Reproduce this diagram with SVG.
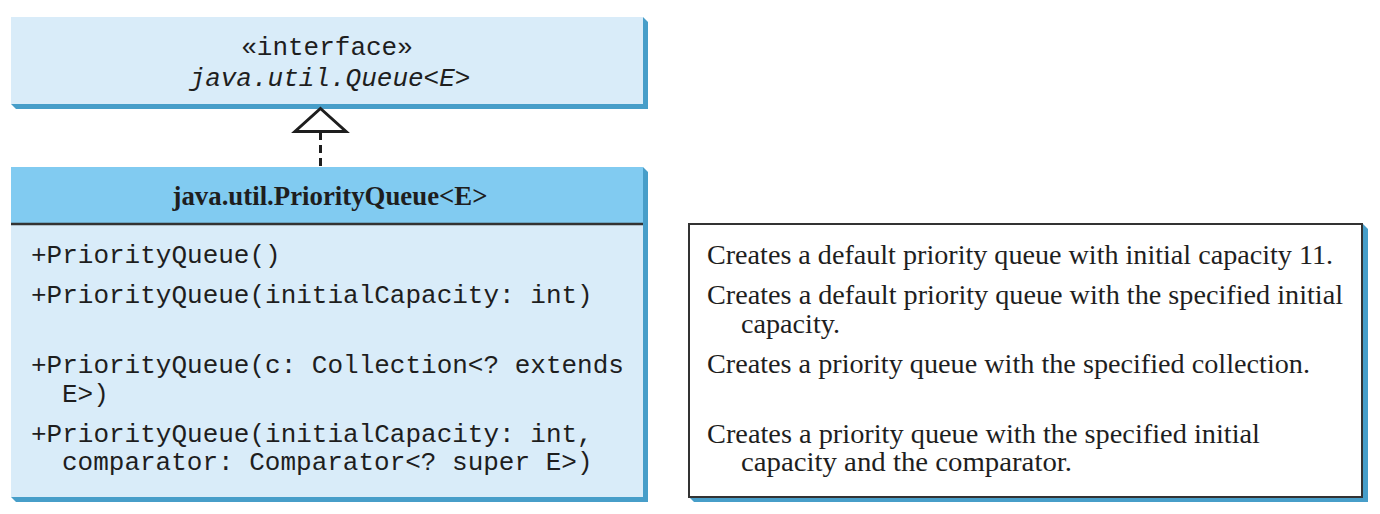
<svg xmlns="http://www.w3.org/2000/svg" width="1380" height="514" viewBox="0 0 1380 514">
<style>
.shadow{fill:#479ec9}
.light{fill:#d9ecf9}
.head{fill:#81cbf1}
.mono{font-family:"Liberation Mono","DejaVu Sans Mono",monospace;font-size:26px;fill:#1e1e1e}
.ital{font-style:italic}
.bold{font-family:"Liberation Serif","Times New Roman",serif;font-size:28px;font-weight:bold;fill:#1e1e1e}
.desc{font-family:"Liberation Serif","Times New Roman",serif;font-size:27px;fill:#1e1e1e}
.conn{stroke:#1e1e1e;stroke-width:3;fill:none}
</style>
<rect width="1380" height="514" fill="#ffffff"/>
<g id="queue-interface">
<polygon class="shadow" points="643,17 648,22 648,109 16,109 11,104"/>
<rect class="light" x="11" y="17" width="632" height="87"/>
<text class="mono" x="327" y="55" text-anchor="middle">«interface»</text>
<text class="mono ital" x="330" y="86" text-anchor="middle">java.util.Queue&lt;E&gt;</text>
</g>
<g id="priority-queue">
<polygon class="shadow" points="643,167 648,172 648,502 16,502 11,497"/>
<rect class="head" x="11" y="167" width="632" height="57"/>
<rect class="light" x="11" y="224" width="632" height="273"/>
<line x1="11" y1="224" x2="643" y2="224" stroke="#333333" stroke-width="2.5"/>
<text class="bold" x="330" y="205" text-anchor="middle" textLength="315" lengthAdjust="spacingAndGlyphs">java.util.PriorityQueue&lt;E&gt;</text>
<text class="mono" x="31" y="263">+PriorityQueue()</text>
<text class="mono" x="31" y="303">+PriorityQueue(initialCapacity: int)</text>
<text class="mono" x="31" y="373">+PriorityQueue(c: Collection&lt;? extends</text>
<text class="mono" x="62" y="402">E&gt;)</text>
<text class="mono" x="31" y="442">+PriorityQueue(initialCapacity: int,</text>
<text class="mono" x="62" y="470">comparator: Comparator&lt;? super E&gt;)</text>
</g>
<g id="descriptions">
<polygon class="shadow" points="1362,223 1368,229 1368,502 694,502 689,497"/>
<rect x="689" y="224" width="673" height="273" fill="#ffffff" stroke="#333333" stroke-width="2"/>
<text class="desc" x="707" y="264" textLength="626" lengthAdjust="spacingAndGlyphs">Creates a default priority queue with initial capacity 11.</text>
<text class="desc" x="707" y="304" textLength="636" lengthAdjust="spacingAndGlyphs">Creates a default priority queue with the specified initial</text>
<text class="desc" x="741" y="333" textLength="99" lengthAdjust="spacingAndGlyphs">capacity.</text>
<text class="desc" x="707" y="373" textLength="603" lengthAdjust="spacingAndGlyphs">Creates a priority queue with the specified collection.</text>
<text class="desc" x="707" y="443" textLength="553" lengthAdjust="spacingAndGlyphs">Creates a priority queue with the specified initial</text>
<text class="desc" x="741" y="471" textLength="331" lengthAdjust="spacingAndGlyphs">capacity and the comparator.</text>
</g>
<g id="connectors">
<line class="conn" x1="320.5" y1="132" x2="320.5" y2="167" stroke-dasharray="8,5"/>
<polygon class="conn" points="320.5,108.5 346,131.5 295,131.5" style="fill:#ffffff"/>
</g>
</svg>
